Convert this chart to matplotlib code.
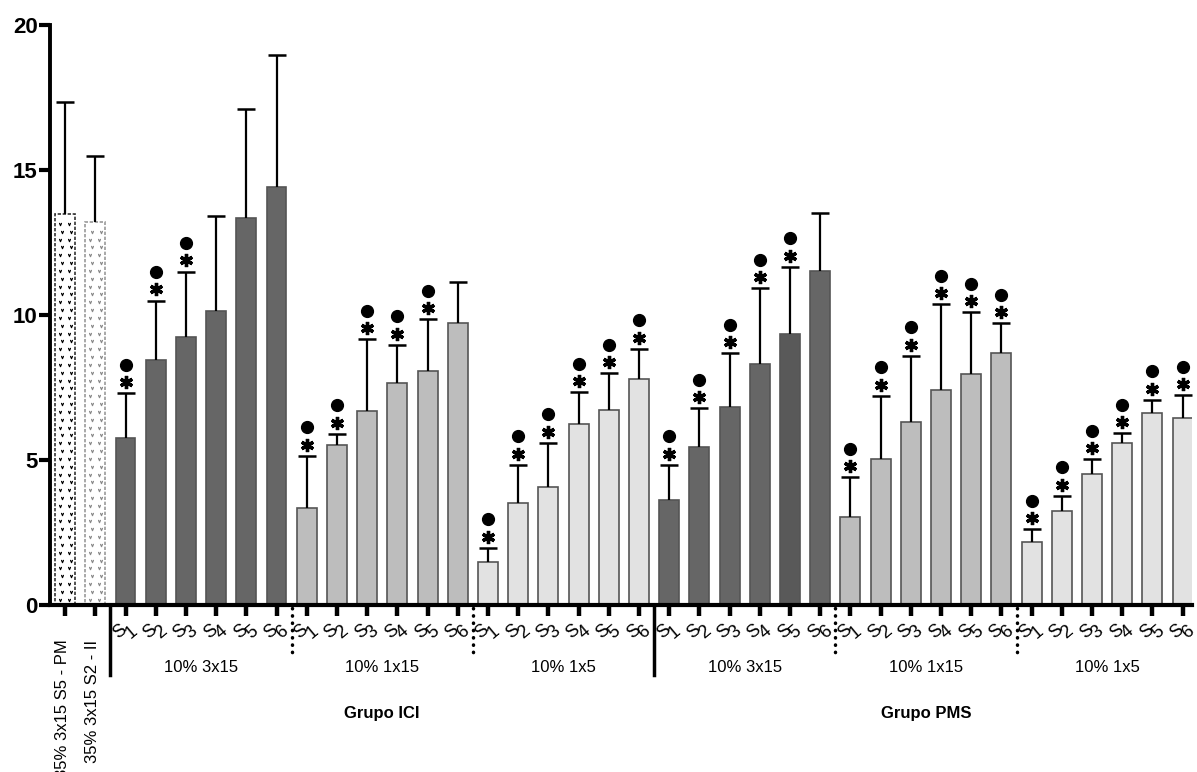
import numpy as np
from matplotlib import pyplot as plt
from matplotlib.transforms import ScaledTranslation

plt.rcParams['font.family'] = ['Liberation Sans', 'DejaVu Sans']

# reference groups (35% 3x15)
control_labels = ['35% 3x15 S5 - PM', '35% 3x15 S2 - II']
control_mean = [13.5, 13.2]
control_sd = [3.85, 2.3]

sessions = ['S1', 'S2', 'S3', 'S4', 'S5', 'S6']
protocols = ['10% 3x15', '10% 1x15', '10% 1x5']
groups = ['Grupo ICI', 'Grupo PMS']

ici_3x15_mean = [5.76, 8.45, 9.24, 10.14, 13.34, 14.41]
ici_3x15_sd = [1.55, 2.05, 2.26, 3.27, 3.76, 4.56]
ici_1x15_mean = [3.34, 5.52, 6.69, 7.66, 8.07, 9.72]
ici_1x15_sd = [1.80, 0.38, 2.48, 1.31, 1.79, 1.42]
ici_1x5_mean = [1.48, 3.52, 4.07, 6.24, 6.72, 7.79]
ici_1x5_sd = [0.49, 1.31, 1.52, 1.10, 1.28, 1.04]

pms_3x15_mean = [3.62, 5.45, 6.83, 8.31, 9.34, 11.52]
pms_3x15_sd = [1.21, 1.34, 1.86, 2.62, 2.32, 2.00]
pms_1x15_mean = [3.03, 5.03, 6.31, 7.41, 7.97, 8.69]
pms_1x15_sd = [1.38, 2.18, 2.28, 2.97, 2.13, 1.03]
pms_1x5_mean = [2.17, 3.24, 4.52, 5.59, 6.62, 6.45]
pms_1x5_sd = [0.45, 0.52, 0.51, 0.34, 0.45, 0.79]

# significance vs. reference (* and dot drawn together)
ici_3x15_sig = [1, 1, 1, 0, 0, 0]
ici_1x15_sig = [1, 1, 1, 1, 1, 0]
ici_1x5_sig = [1, 1, 1, 1, 1, 1]
pms_3x15_sig = [1, 1, 1, 1, 1, 0]
pms_1x15_sig = [1, 1, 1, 1, 1, 1]
pms_1x5_sig = [1, 1, 1, 1, 1, 1]

proto_colors = ['#666666', '#bdbdbd', '#e2e2e2']

series = [
    (ici_3x15_mean, ici_3x15_sd, ici_3x15_sig),
    (ici_1x15_mean, ici_1x15_sd, ici_1x15_sig),
    (ici_1x5_mean, ici_1x5_sd, ici_1x5_sig),
    (pms_3x15_mean, pms_3x15_sd, pms_3x15_sig),
    (pms_1x15_mean, pms_1x15_sd, pms_1x15_sig),
    (pms_1x5_mean, pms_1x5_sd, pms_1x5_sig),
]

means = list(control_mean)
sds = list(control_sd)
sig = [0, 0]
colors = ['white', 'white']
for k, (m, s, g) in enumerate(series):
    means += m
    sds += s
    sig += g
    colors += [proto_colors[k % 3]] * len(m)
# PMS 3x15 S5 is printed a shade darker
colors[2 + 18 + 4] = '#595959'

means = np.array(means)
sds = np.array(sds)
x = np.arange(len(means))
tops = means + sds

fig = plt.figure(figsize=(11.97, 7.72), dpi=100)
ax = fig.add_axes([50 / 1197, 167 / 772, 1142 / 1197, 580 / 772])

ax.bar(x[:2], means[:2], width=0.66, color='white', edgecolor=['#333333', '#999999'],
       linewidth=1.2, linestyle=(0, (2, 1)), zorder=2)
ax.bar(x[2:], means[2:], width=0.66, color=colors[2:], edgecolor='#555555', linewidth=1.2, zorder=2)

# small v pattern inside the two reference bars
for i, vcol in zip(range(2), ['black', '#8a8a8a']):
    ys = np.arange(0.18, means[i] - 0.1, 0.27)
    for j, yy in enumerate(ys):
        off = 0.03 if j % 2 else -0.03
        ax.plot([x[i] - 0.13 + off, x[i] + 0.15 + off], [yy, yy], linestyle='none',
                marker=r'$\vee$', markersize=2.0, markeredgewidth=0.4, color=vcol, zorder=3)

# upper error bars only
ax.vlines(x, means, tops, color='black', linewidth=1.6, zorder=3)
ax.plot(x, tops, linestyle='none', marker='_', markersize=13, markeredgewidth=1.8,
        color='black', zorder=3)

star_shift = ax.transData + ScaledTranslation(0, 8 / 72, fig.dpi_scale_trans)
dot_shift = ax.transData + ScaledTranslation(0, 20.5 / 72, fig.dpi_scale_trans)
sx = x[np.array(sig) == 1]
ax.plot(sx, tops[sx], linestyle='none', marker=(6, 2, 0), markersize=9.5,
        markeredgewidth=2.4, color='black', zorder=4, transform=star_shift)
ax.plot(sx, tops[sx], linestyle='none', marker='o', markersize=8.5,
        color='black', zorder=4, transform=dot_shift)

ax.set_xlim(-0.5, 37.31)
ax.set_ylim(0, 20)
ax.set_yticks([0, 5, 10, 15, 20])
ax.tick_params(axis='y', length=8, width=3, labelsize=16, pad=1)
for t in ax.get_yticklabels():
    t.set_fontweight('bold')
ax.set_xticks(x)
ax.set_xticklabels([])
ax.tick_params(axis='x', length=8, width=3.2)
ax.spines['top'].set_visible(False)
ax.spines['right'].set_visible(False)
ax.spines['left'].set_linewidth(2.8)
ax.spines['bottom'].set_linewidth(3)

# session labels, each glyph tilted
for i in x[2:]:
    lab = sessions[(i - 2) % 6]
    for c, dx in zip(lab, [-4.0, 4.0]):
        ax.annotate(c, xy=(i, 0), xycoords='data', xytext=(dx, -19.5), textcoords='offset points',
                    rotation=40, ha='center', va='center', fontsize=13, annotation_clip=False)

for i, lab in enumerate(control_labels):
    ax.annotate(lab, xy=(i, 0), xytext=(-2, -25), textcoords='offset points',
                rotation=90, ha='center', va='top', fontsize=12, annotation_clip=False)

for k in range(6):
    cx = 2 + 6 * k + 2.5
    ax.annotate(protocols[k % 3], xy=(cx, 0), xytext=(0, -45), textcoords='offset points',
                ha='center', va='center', fontsize=12, annotation_clip=False)
for g, lab in enumerate(groups):
    cx = 2 + 18 * g + 8.5
    ax.annotate(lab, xy=(cx, 0), xytext=(0, -78), textcoords='offset points',
                ha='center', va='center', fontsize=12, fontweight='bold', annotation_clip=False)

# separators under the axis
for xs in [1.5, 19.5]:
    ax.plot([xs, xs], [-0.1, -2.42], color='black', linewidth=2.5, clip_on=False)
for xs in [7.5, 13.5, 25.5, 31.5]:
    ax.plot([xs, xs], [-0.1, -1.79], color='black', linewidth=2.5, linestyle=(0, (0.1, 2.0)),
            dash_capstyle='round', clip_on=False)

fig.savefig('out.png', dpi=100)
